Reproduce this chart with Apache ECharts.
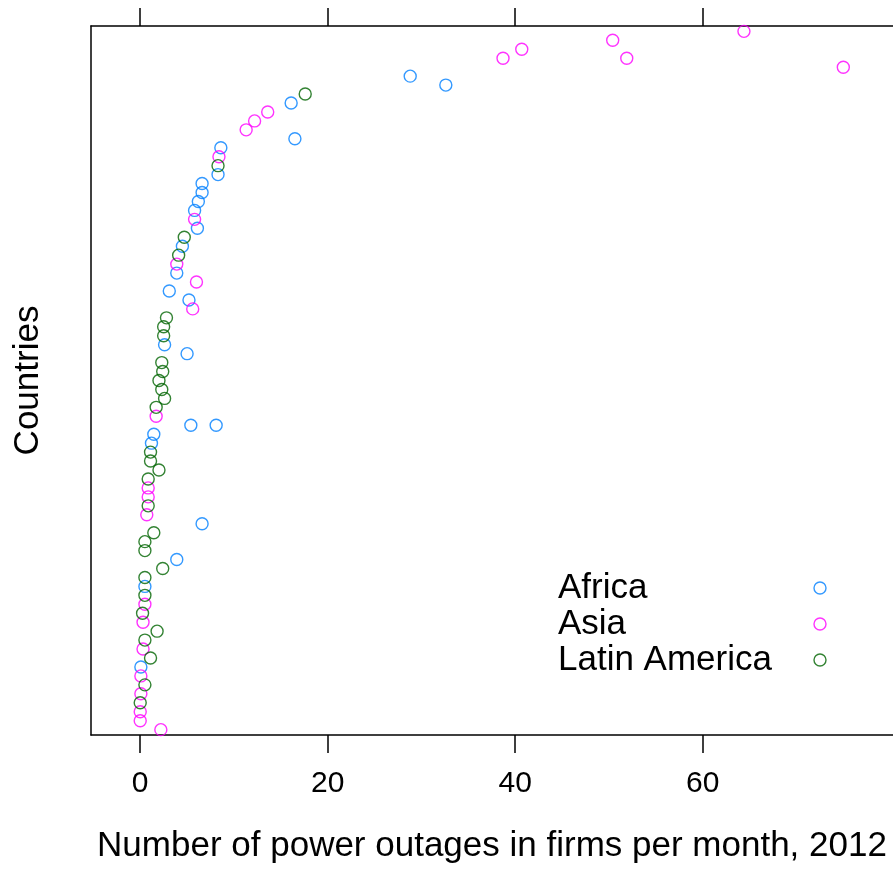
<!DOCTYPE html>
<html>
<head>
<meta charset="utf-8">
<script src="https://cdn.jsdelivr.net/npm/echarts@6/dist/echarts.min.js"></script>
<style>
html,body{margin:0;padding:0;background:#fff;}
#chart{width:893px;height:869px;}
</style>
</head>
<body>
<div id="chart"></div>
<script>
// Row positions count from the bottom (1) to the top (79) of the dot plot.
const regions = ['Africa', 'Asia', 'Latin America'];
const regionColors = ['#0080ff', '#ff00ff', '#006400'];

const africaRows   = [74, 73, 71, 67, 66, 63, 62, 61, 60, 59, 57, 55, 52, 50, 49, 44, 43, 35, 35, 34, 33, 24, 20, 17, 8];
const africaValues = [28.8, 32.6, 16.1, 16.5, 8.6, 8.3, 6.6, 6.6, 6.2, 5.8, 6.1, 4.5, 3.9, 3.1, 5.2, 2.6, 5.0, 5.4, 8.1, 1.45, 1.2, 6.6, 3.9, 0.5, 0.07];

const asiaRows   = [79, 78, 77, 76, 76, 75, 70, 69, 68, 65, 58, 53, 51, 48, 36, 28, 27, 25, 15, 13, 10, 7, 5, 3, 2, 1];
const asiaValues = [64.4, 50.4, 40.7, 38.7, 51.9, 75.0, 13.6, 12.2, 11.3, 8.4, 5.8, 3.9, 6.0, 5.6, 1.7, 0.85, 0.85, 0.7, 0.5, 0.3, 0.3, 0.07, 0.07, 0, 0, 2.2];

const latamRows   = [72, 64, 56, 54, 47, 46, 45, 42, 41, 40, 39, 38, 37, 32, 31, 30, 29, 26, 23, 22, 21, 19, 18, 16, 14, 12, 11, 9, 6, 4];
const latamValues = [17.6, 8.3, 4.7, 4.1, 2.8, 2.5, 2.5, 2.3, 2.4, 2.0, 2.3, 2.6, 1.7, 1.1, 1.1, 2.0, 0.85, 0.85, 1.45, 0.5, 0.5, 2.4, 0.5, 0.5, 0.25, 1.8, 0.5, 1.1, 0.5, 0];

const xTicks = [0, 20, 40, 60];
const xTitle = 'Number of power outages in firms per month, 2012';
const yTitle = 'Countries';

const FONT = '"Liberation Sans", Arial, sans-serif';
const regionRows = [africaRows, asiaRows, latamRows];
const regionValues = [africaValues, asiaValues, latamValues];

function pairs(vals, rows) { return vals.map((v, i) => [v, rows[i]]); }

const series = regions.map((name, i) => ({
  name: name,
  type: 'scatter',
  xAxisIndex: 0,
  yAxisIndex: 0,
  symbol: 'circle',
  symbolSize: 12,
  itemStyle: { color: 'rgba(0,0,0,0)', borderColor: regionColors[i], borderWidth: 1.4 },
  emphasis: { disabled: true },
  data: pairs(regionValues[i], regionRows[i])
}));

const axisLineStyle = { color: '#000', width: 1.5 };

const option = {
  animation: false,
  backgroundColor: '#fff',
  grid: { left: 91, top: 26, width: 807, height: 713, containLabel: false },
  xAxis: [
    {
      type: 'value', position: 'bottom', min: -5.25, max: 80.3,
      axisLine: { show: true, onZero: false, lineStyle: axisLineStyle },
      axisTick: { show: true, length: 18, lineStyle: axisLineStyle, customValues: xTicks },
      axisLabel: { show: true, customValues: xTicks, margin: 34, fontSize: 30, color: '#000', fontFamily: FONT },
      splitLine: { show: false },
      name: xTitle, nameLocation: 'middle', nameGap: 94,
      nameTextStyle: { fontSize: 35, color: '#000', fontFamily: FONT }
    },
    {
      type: 'value', position: 'top', min: -5.25, max: 80.3,
      axisLine: { show: true, onZero: false, lineStyle: axisLineStyle },
      axisTick: { show: true, length: 18, lineStyle: axisLineStyle, customValues: xTicks },
      axisLabel: { show: false },
      splitLine: { show: false }
    }
  ],
  yAxis: {
    type: 'value', min: 0.4, max: 79.6,
    axisLine: { show: true, onZero: false, lineStyle: axisLineStyle },
    axisTick: { show: false },
    axisLabel: { show: false },
    splitLine: { show: false },
    name: yTitle, nameLocation: 'middle', nameGap: 45, nameRotate: 90,
    nameTextStyle: { fontSize: 35, color: '#000', fontFamily: FONT }
  },
  legend: {
    orient: 'vertical', left: 558, top: 570, padding: 0, itemGap: 0,
    align: 'right', itemWidth: 12, itemHeight: 12, selectedMode: false,
    data: regions.map((n, i) => ({
      name: n, icon: 'circle',
      itemStyle: { color: 'rgba(0,0,0,0)', borderColor: regionColors[i], borderWidth: 1.4 }
    })),
    formatter: n => '{a|' + n + '}',
    textStyle: {
      fontSize: 35, color: '#000', fontFamily: FONT,
      rich: { a: { width: 251, align: 'left', fontSize: 35, lineHeight: 36, height: 36, fontFamily: FONT, color: '#000' } }
    }
  },
  series: series
};

const chart = echarts.init(document.getElementById('chart'), null, { renderer: 'canvas' });
chart.setOption(option);
</script>
</body>
</html>
